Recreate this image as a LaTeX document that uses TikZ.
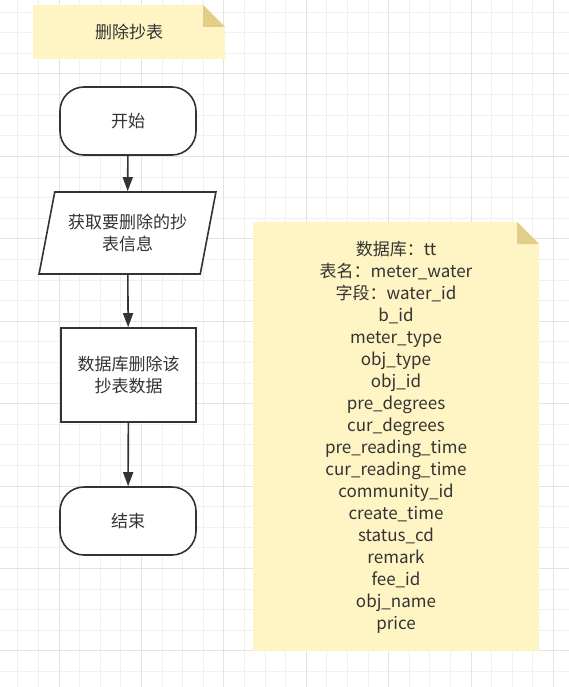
\documentclass[tikz,border=0pt]{standalone}
\usepackage{fontspec}
\setmainfont{Noto Sans CJK SC}
\usepackage{tikz}
\usetikzlibrary{arrows.meta, shapes.geometric, positioning}

\definecolor{ink}{HTML}{333333}
\definecolor{notefill}{HTML}{FFF4C3}
\definecolor{notefold}{HTML}{E2CD89}
\definecolor{gridminor}{HTML}{F0F0F0}
\definecolor{gridmajor}{HTML}{E3E3E3}

\begin{document}
\begin{tikzpicture}[x=1pt, y=-1pt, >={Triangle[length=14pt, width=10pt]},
    font=\fontsize{17}{22}\selectfont, text=ink,
    terminal/.style={draw=ink, line width=1.6pt, fill=white, rounded corners=24pt,
        minimum width=136pt, minimum height=68pt},
    io/.style={draw=ink, line width=1.6pt, fill=white, trapezium,
        trapezium left angle=72.4, trapezium right angle=107.6, trapezium stretches=true,
        minimum width=177pt, minimum height=82pt, align=center, inner sep=2pt},
    process/.style={draw=ink, line width=1.6pt, fill=white,
        minimum width=135pt, minimum height=94pt, align=center},
    flow/.style={->, draw=ink, line width=1.6pt}]
    \useasboundingbox (0,0) rectangle (569,687);
    \fill[white] (0,0) rectangle (569,687);
    % grid
    \foreach \i in {0,...,28}
        \draw[gridminor, line width=1pt] ({-2.8+20.6*\i},0) -- ++(0,687);
    \foreach \j in {0,...,34}
        \draw[gridminor, line width=1pt] (0,{-8.4+20.6*\j}) -- ++(569,0);
    \foreach \i in {0,...,6}
        \draw[gridmajor, line width=1pt] ({59+82.4*\i},0) -- ++(0,687);
    \foreach \j in {0,...,7}
        \draw[gridmajor, line width=1pt] (0,{74+82.4*\j}) -- ++(569,0);

    % notes
    \fill[notefill] (33,5) -- (203,5) -- (225,27) -- (225,59) -- (33,59) -- cycle;
    \fill[notefold] (203,5) -- (203,27) -- (225,27) -- cycle;
    \node (title) at (129,32) {删除抄表};

    \fill[notefill] (253,222) -- (517,222) -- (539,244) -- (539,651) -- (253,651) -- cycle;
    \fill[notefold] (517,222) -- (517,244) -- (539,244) -- cycle;
    \node[align=center] (table) at (396,437) {数据库：tt\\表名：meter\_water\\字段：water\_id\\b\_id\\meter\_type\\obj\_type\\obj\_id\\pre\_degrees\\cur\_degrees\\pre\_reading\_time\\cur\_reading\_time\\community\_id\\create\_time\\status\_cd\\remark\\fee\_id\\obj\_name\\price};

    % flow
    \node[terminal] (start) at (128,121) {开始};
    \node[io] (fetch) at (127.5,233) {获取要删除的抄\\表信息};
    \node[process] (delete) at (128.5,375) {数据库删除该\\抄表数据};
    \node[terminal] (end) at (128,521) {结束};

    \draw[flow] (start) -- (fetch);
    \draw[flow] (fetch) -- (delete);
    \draw[flow] (delete) -- (end);
\end{tikzpicture}
\end{document}
